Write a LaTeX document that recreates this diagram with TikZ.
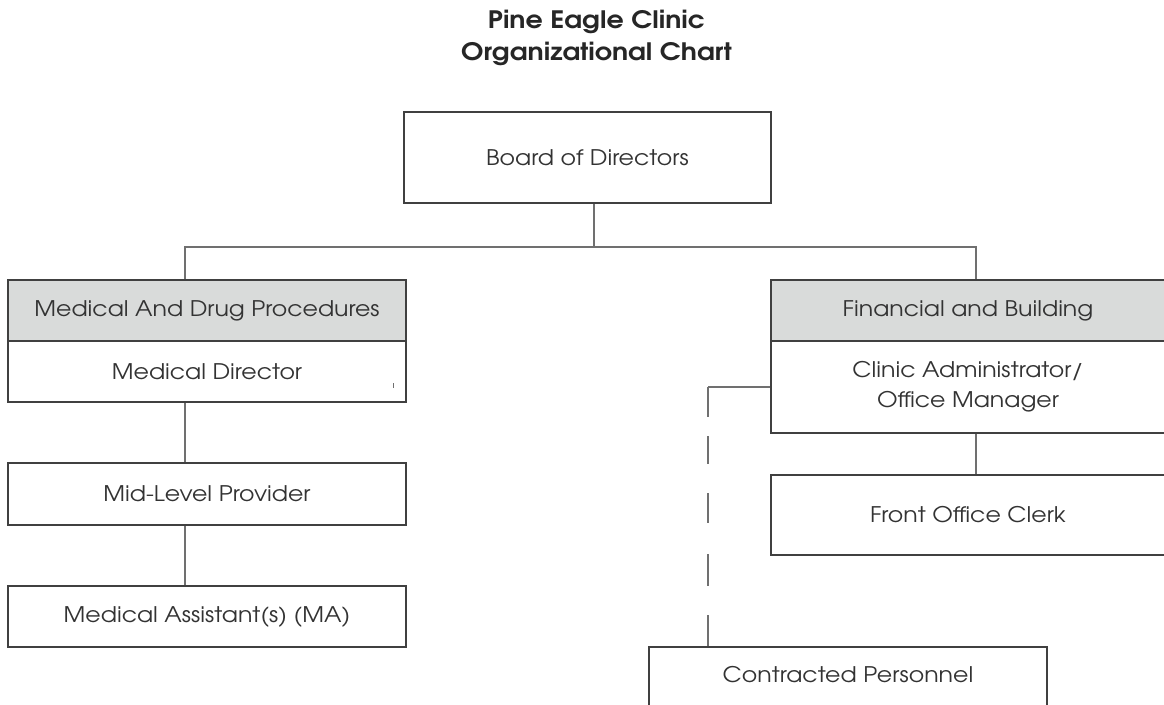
\documentclass[tikz,border=0pt]{standalone}
\usepackage{fontspec}
\setmainfont{texgyreadventor}[Extension=.otf, UprightFont=*-regular, BoldFont=*-bold]
\newfontfamily\bodyfont{texgyreadventor}[Extension=.otf, UprightFont=*-regular, BoldFont=*-bold, FakeStretch=1.1]
\newfontfamily\titlefont{texgyreadventor}[Extension=.otf, UprightFont=*-bold, FakeStretch=1.12]
\definecolor{txt}{HTML}{333333}
\definecolor{ttl}{HTML}{262626}
\definecolor{bord}{HTML}{404040}
\definecolor{conn}{HTML}{707070}
\definecolor{head}{HTML}{D9DBDA}
\begin{document}
\begin{tikzpicture}[x=1pt,y=-1pt,
  box/.style={draw=bord, line width=1.5pt, fill=white, inner sep=0pt, text=txt,
    font=\bodyfont\fontsize{21.5}{30}\selectfont, align=center},
  hdr/.style={box, fill=head},
  link/.style={draw=conn, line width=1.5pt}]
\useasboundingbox (0,0) rectangle (1164,704);
\clip (0,0) rectangle (1164,704);
\fill[white] (0,0) rectangle (1164,704);
% title
\node[text=ttl, font=\titlefont\fontsize{24}{32}\selectfont, align=center] (title) at (596.5,38) {Pine Eagle Clinic\\Organizational Chart};
% boxes
\node[box, minimum width=367pt, minimum height=91pt] (board) at (587.5,157.5) {Board of Directors};
\node[hdr, minimum width=398pt, minimum height=61pt] (medhead) at (207,310.5) {Medical And Drug Procedures};
\node[box, minimum width=398pt, minimum height=61pt] (meddir) at (207,371.5) {Medical Director};
\node[box, minimum width=398pt, minimum height=62pt] (mid) at (207,494) {Mid-Level Provider};
\node[box, minimum width=398pt, minimum height=61pt] (ma) at (207,616.5) {Medical Assistant(s) (MA)};
\node[hdr, minimum width=394pt, minimum height=61pt] (finhead) at (968,310.5) {Financial and Building};
\node[box, minimum width=394pt, minimum height=92pt] (admin) at (968,387) {Clinic Administrator/\\Office Manager};
\node[box, minimum width=394pt, minimum height=80pt] (front) at (968,515) {Front Office Clerk};
\node[box, minimum width=398pt, minimum height=72pt] (contr) at (848,683) {};
\node[text=txt, font=\bodyfont\fontsize{21.5}{30}\selectfont] (contrlabel) at (848,675) {Contracted Personnel};
% connectors
\coordinate (j) at (594,247);
\coordinate (jl) at (185,247);
\coordinate (jr) at (976,247);
\coordinate (dj) at (708,387);
\draw[link] (board.south -| j) -- (j);
\draw[link] (jl |- medhead.north) -- (jl) -- (jr) -- (jr |- finhead.north);
\draw[link] (jl |- meddir.south) -- (jl |- mid.north);
\draw[link] (jl |- mid.south) -- (jl |- ma.north);
\draw[link] (jr |- admin.south) -- (jr |- front.north);
\draw[link] (admin.west) -- (dj);
\draw[link, dash pattern=on 30pt off 19pt on 28pt off 29pt on 30pt off 31pt on 32pt off 29pt on 40pt] (dj) -- (dj |- contr.north);
% small tick
\coordinate (tick) at (393,383);
\draw[conn, line width=1pt] (tick) -- ++(0,5);
\end{tikzpicture}
\end{document}
